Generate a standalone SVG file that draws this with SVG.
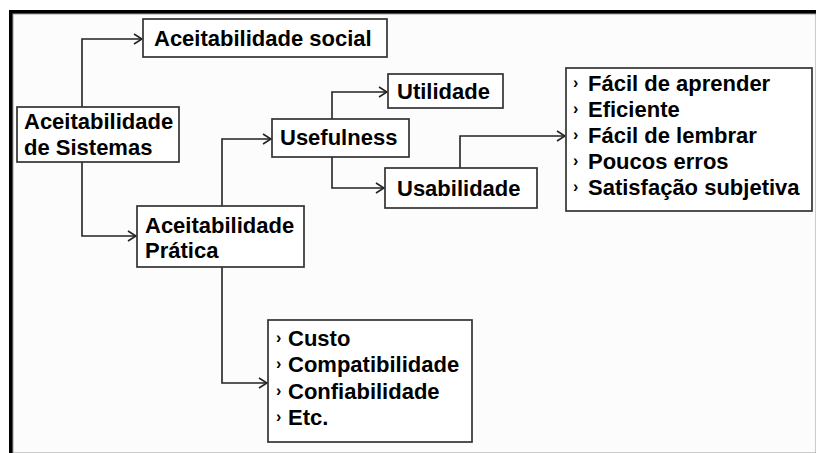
<svg xmlns="http://www.w3.org/2000/svg" width="816" height="453" viewBox="0 0 816 453">
<defs>
<style>
.box{fill:#ffffff;stroke:#333333;stroke-width:1.7}
.t{font-family:"Liberation Sans",Arial,sans-serif;font-weight:bold;font-size:22px;fill:#000}
.b{font-family:"Liberation Sans",Arial,sans-serif;font-weight:bold;font-size:16px;fill:#000}
.c{fill:none;stroke:#222222;stroke-width:1.6;marker-end:url(#ah)}
</style>
<marker id="ah" markerUnits="userSpaceOnUse" viewBox="-10 -6 11 12" refX="0" refY="0" markerWidth="11" markerHeight="12" orient="auto">
<polyline points="-8,-5 0,0 -8,5" fill="none" stroke="#222222" stroke-width="1.6"/>
</marker>
</defs>
<rect x="0" y="0" width="816" height="453" fill="#ffffff"/>
<rect x="9" y="10" width="807" height="443" fill="#000000"/>
<rect x="13" y="14" width="803" height="439" fill="#fcfcfc" stroke="#9a9a9a" stroke-width="1"/>
<g id="connectors">
<path class="c" d="M82,107 V39 H142"/>
<path class="c" d="M82,162 V236 H136"/>
<path class="c" d="M222,206 V139 H271"/>
<path class="c" d="M332,119 V92 H387"/>
<path class="c" d="M332,157 V188 H384"/>
<path class="c" d="M460,168 V136 H565"/>
<path class="c" d="M222,267 V383 H267"/>
</g>
<g id="social">
<rect class="box" x="143" y="19" width="244" height="38"/>
<text class="t" x="154" y="46">Aceitabilidade social</text>
</g>
<g id="sistemas">
<rect class="box" x="17" y="107" width="162" height="55"/>
<text class="t" x="24" y="129">Aceitabilidade</text>
<text class="t" x="24" y="155">de Sistemas</text>
</g>
<g id="pratica">
<rect class="box" x="137" y="206" width="167" height="61"/>
<text class="t" x="145" y="233">Aceitabilidade</text>
<text class="t" x="145" y="258">Prática</text>
</g>
<g id="usefulness">
<rect class="box" x="272" y="119" width="137" height="38"/>
<text class="t" x="280" y="145">Usefulness</text>
</g>
<g id="utilidade">
<rect class="box" x="388" y="74" width="115" height="34"/>
<text class="t" x="397" y="99">Utilidade</text>
</g>
<g id="usabilidade">
<rect class="box" x="385" y="168" width="152" height="40"/>
<text class="t" x="397" y="196">Usabilidade</text>
</g>
<g id="lista-usabilidade">
<rect class="box" x="566" y="68" width="246" height="143"/>
<text class="b" x="573" y="88">›</text><text class="t" x="588" y="91">Fácil de aprender</text>
<text class="b" x="573" y="114">›</text><text class="t" x="588" y="117">Eficiente</text>
<text class="b" x="573" y="140">›</text><text class="t" x="588" y="143">Fácil de lembrar</text>
<text class="b" x="573" y="166">›</text><text class="t" x="588" y="169">Poucos erros</text>
<text class="b" x="573" y="192">›</text><text class="t" x="588" y="195">Satisfação subjetiva</text>
</g>
<g id="lista-pratica">
<rect class="box" x="268" y="320" width="204" height="122"/>
<text class="b" x="276" y="343">›</text><text class="t" x="288" y="346">Custo</text>
<text class="b" x="276" y="369">›</text><text class="t" x="288" y="372">Compatibilidade</text>
<text class="b" x="276" y="396">›</text><text class="t" x="288" y="399">Confiabilidade</text>
<text class="b" x="276" y="422">›</text><text class="t" x="288" y="425">Etc.</text>
</g>
</svg>
